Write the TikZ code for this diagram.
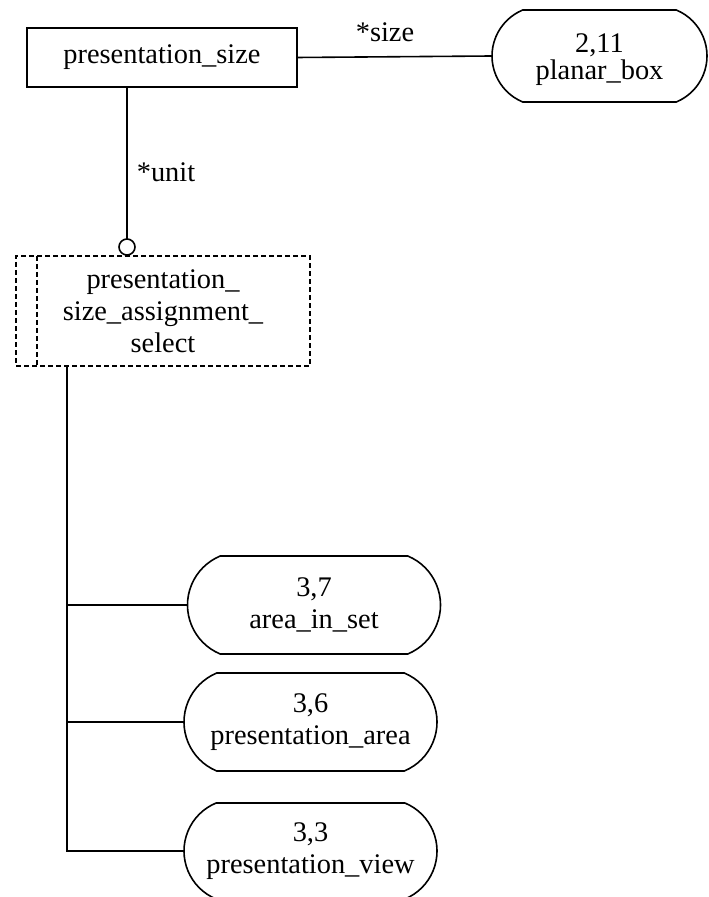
\documentclass[tikz,border=0pt]{standalone}
\usepackage{fontspec}
\setmainfont{Liberation Serif}
\usetikzlibrary{shapes.misc}
\begin{document}
\begin{tikzpicture}[x=0.5pt,y=-0.5pt,
  line width=0.8pt,
  every node/.style={inner sep=0pt,outer sep=0pt,align=center,font=\fontsize{14.2}{16}\selectfont},
  entity/.style={draw,rectangle,minimum width=270*0.5pt,minimum height=59*0.5pt},
  selbox/.style={draw,rectangle,dash pattern=on 2.5pt off 1.5pt,minimum width=294*0.5pt,minimum height=110*0.5pt},
  refbox/.style={draw,rounded rectangle,rounded rectangle arc length=135,minimum width=253*0.5pt,minimum height=98*0.5pt},
  lbl/.style={font=\fontsize{14.2}{16}\selectfont},
  ring/.style={draw,circle,minimum size=16*0.5pt,fill=white}
]
\useasboundingbox (0,0) rectangle (708,897);
\node[entity] (ps) at (162,57.5) {presentation\_size};
\node[refbox,minimum width=215*0.5pt,minimum height=92*0.5pt,font=\fontsize{14.2}{13.5}\selectfont] (pb) at (599.5,56) {\rule{0pt}{13pt}2,11\\planar\_box};
\draw (ps.east) -- (pb.west);
\node[lbl] (lsize) at (385,32) {*size};

\node[selbox] (sel) at (163,311) {presentation\_\\size\_assignment\_\\select};
\coordinate (inner) at (37,0);
\draw[dash pattern=on 2.5pt off 1.5pt] (sel.north -| inner) -- (sel.south -| inner);

\node[ring] (circ) at (127,247) {};
\draw (ps.south -| circ.north) -- (circ.north);
\node[lbl] (lunit) at (166,172) {*unit};

\node[refbox] (ais) at (314,605) {3,7\\area\_in\_set};
\node[refbox] (pa) at (310.5,722) {3,6\\presentation\_area};
\node[refbox,minimum height=96*0.5pt] (pv) at (310.5,851) {3,3\\presentation\_view};

\coordinate (trunk) at (67,0);
\draw (sel.south -| trunk) -- (trunk |- pv.west) -- (pv.west);
\draw (trunk |- ais.west) -- (ais.west);
\draw (trunk |- pa.west) -- (pa.west);
\end{tikzpicture}
\end{document}
